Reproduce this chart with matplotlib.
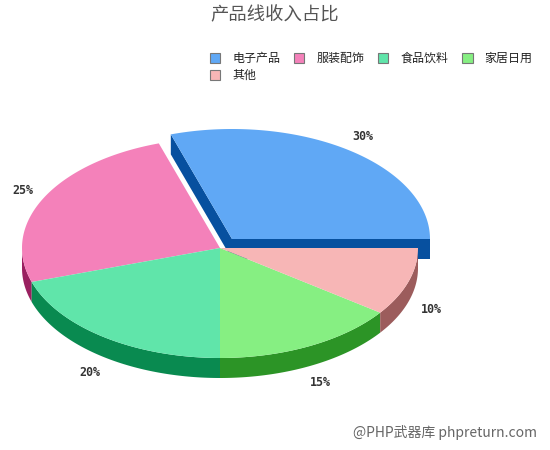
import numpy as np
import matplotlib
matplotlib.use("Agg")
import matplotlib.pyplot as plt
from matplotlib.patches import Patch

plt.rcParams['font.family'] = ['Noto Sans CJK SC', 'DejaVu Sans']

categories = ['电子产品', '服装配饰', '食品饮料', '家居日用', '其他']
values = [30, 25, 20, 15, 10]
explode = [1, 0, 0, 0, 0]
top_colors = ['#60A8F5', '#F481BA', '#60E5AA', '#86EF82', '#F7B6B6']
side_colors = ['#07509F', '#9A2060', '#098A50', '#2C9426', '#9C5C5C']
title = '产品线收入占比'
watermark = '@PHP武器库 phpreturn.com'

CX, CY, RX, RY, DEPTH = 220, 248, 198, 110, 20
EX, EY = 12, -9

fig = plt.figure(figsize=(5.5, 4.5), dpi=100)
ax = fig.add_axes([0, 0, 1, 1])
ax.set_xlim(0, 550)
ax.set_ylim(450, 0)
ax.axis('off')


def ellipse(theta, cx, cy):
    t = np.radians(theta)
    return cx + RX * np.cos(t), cy - RY * np.sin(t)


edges = np.concatenate([[0], np.cumsum(values)]) / sum(values) * 360
centers = [(CX + EX * e, CY + EY * e) for e in explode]
spans = list(zip(edges[:-1], edges[1:]))


def draw_walls(i):
    a, b = spans[i]
    cx, cy = centers[i]
    for ang in (a, b):
        ex, ey = ellipse(ang, cx, cy)
        ax.fill([cx, ex, ex, cx], [cy, ey, ey + DEPTH, cy + DEPTH],
                color=side_colors[i], lw=0, zorder=1)


def draw_side(i):
    a, b = spans[i]
    cx, cy = centers[i]
    lo, hi = max(a, 180), min(b, 360)
    if hi <= lo:
        return
    th = np.linspace(lo, hi, 80)
    x, y = ellipse(th, cx, cy)
    ax.fill(np.r_[x, x[::-1]], np.r_[y, y[::-1] + DEPTH],
            color=side_colors[i], lw=0, zorder=3)


def draw_top(i, z):
    a, b = spans[i]
    cx, cy = centers[i]
    th = np.linspace(a, b, 160)
    x, y = ellipse(th, cx, cy)
    ax.fill(np.r_[cx, x], np.r_[cy, y], color=top_colors[i], lw=0, zorder=z)


for i in range(len(values)):
    if explode[i]:
        draw_walls(i)
        draw_side(i)
        draw_top(i, 2)
for i in range(len(values)):
    if not explode[i]:
        draw_side(i)
        draw_top(i, 4)

for i, v in enumerate(values):
    mid = (spans[i][0] + spans[i][1]) / 2
    t = np.radians(mid)
    lx = CX + (EX if explode[i] else 0) + 1.12 * RX * np.cos(t)
    ly = CY + (EY if explode[i] else 0) - 1.15 * RY * np.sin(t)
    if np.sin(t) < 0:
        ly += DEPTH + 2
    ax.text(lx, ly, f'{v}%', ha='center', va='center', fontsize=8.4,
            fontweight='bold', family='DejaVu Sans Mono', color='#333333', zorder=6)

fig.text(275 / 550, 1 - 15 / 450, title, ha='center', va='center',
         fontsize=13.2, color='#555555')

handles = [Patch(facecolor=c, edgecolor='#777777', linewidth=0.8) for c in top_colors]
common = dict(frameon=False, prop={'size': 8.64}, handlelength=0.85, handleheight=0.85,
              handletextpad=1.0, columnspacing=1.16, borderpad=0, borderaxespad=0,
              labelcolor='#222222', loc='upper left')
leg1 = ax.legend(handles[:4], categories[:4], ncol=4,
                 bbox_to_anchor=(210 / 550, 1 - 52 / 450), **common)
ax.add_artist(leg1)
ax.legend(handles[4:], categories[4:], ncol=1,
          bbox_to_anchor=(210 / 550, 1 - 69 / 450), **common)

fig.text(537 / 550, 1 - 432 / 450, watermark, ha='right', va='center',
         fontsize=10, color='#666666')

fig.savefig('out.png', dpi=100)
